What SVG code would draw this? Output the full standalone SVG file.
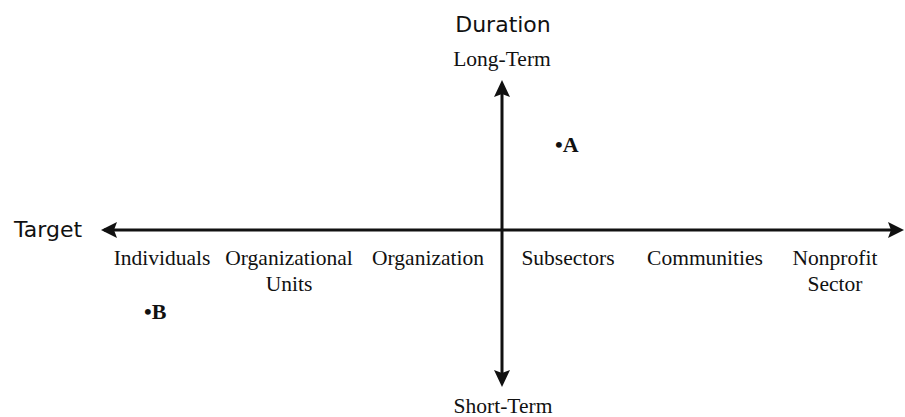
<svg xmlns="http://www.w3.org/2000/svg" width="905" height="417" viewBox="0 0 905 417">
<style>
.ax{stroke:#111;stroke-width:3;fill:none}
.title{font-family:"DejaVu Sans","Liberation Sans",sans-serif;font-size:22px;fill:#111}
.lbl{font-family:"Liberation Serif",serif;font-size:21.5px;fill:#111;text-anchor:middle}
.pt{font-family:"Liberation Serif",serif;font-size:22px;font-weight:bold;fill:#111}
</style>
<rect width="905" height="417" fill="#fff"/>
<g id="connectors">
<path d="M104,230 L896,230" class="ax"/>
<path d="M502,86 L502,382" class="ax"/>
<path d="M117,222 L101,230 L117,238 L114,230 Z" fill="#111"/>
<path d="M888,222 L904,230 L888,238 L891,230 Z" fill="#111"/>
<path d="M494,97 L502,80 L510,97 L502,94 Z" fill="#111"/>
<path d="M494,370 L502,387 L510,370 L502,373 Z" fill="#111"/>
</g>
<g id="duration"><text x="503" y="32" class="title" text-anchor="middle">Duration</text></g>
<g id="long-term"><text x="502" y="66" class="lbl">Long-Term</text></g>
<g id="short-term"><text x="503" y="413" class="lbl">Short-Term</text></g>
<g id="target"><text x="14" y="237" class="title">Target</text></g>
<g id="individuals"><text x="162" y="265" class="lbl">Individuals</text></g>
<g id="org-units"><text x="289" y="265" class="lbl">Organizational</text><text x="289" y="291" class="lbl">Units</text></g>
<g id="organization"><text x="428" y="265" class="lbl">Organization</text></g>
<g id="subsectors"><text x="568" y="265" class="lbl">Subsectors</text></g>
<g id="communities"><text x="705" y="265" class="lbl">Communities</text></g>
<g id="nonprofit"><text x="835" y="265" class="lbl">Nonprofit</text><text x="835" y="291" class="lbl">Sector</text></g>
<g id="pointA"><text x="555" y="152" class="pt">•A</text></g>
<g id="pointB"><text x="144" y="319" class="pt">•B</text></g>
</svg>
